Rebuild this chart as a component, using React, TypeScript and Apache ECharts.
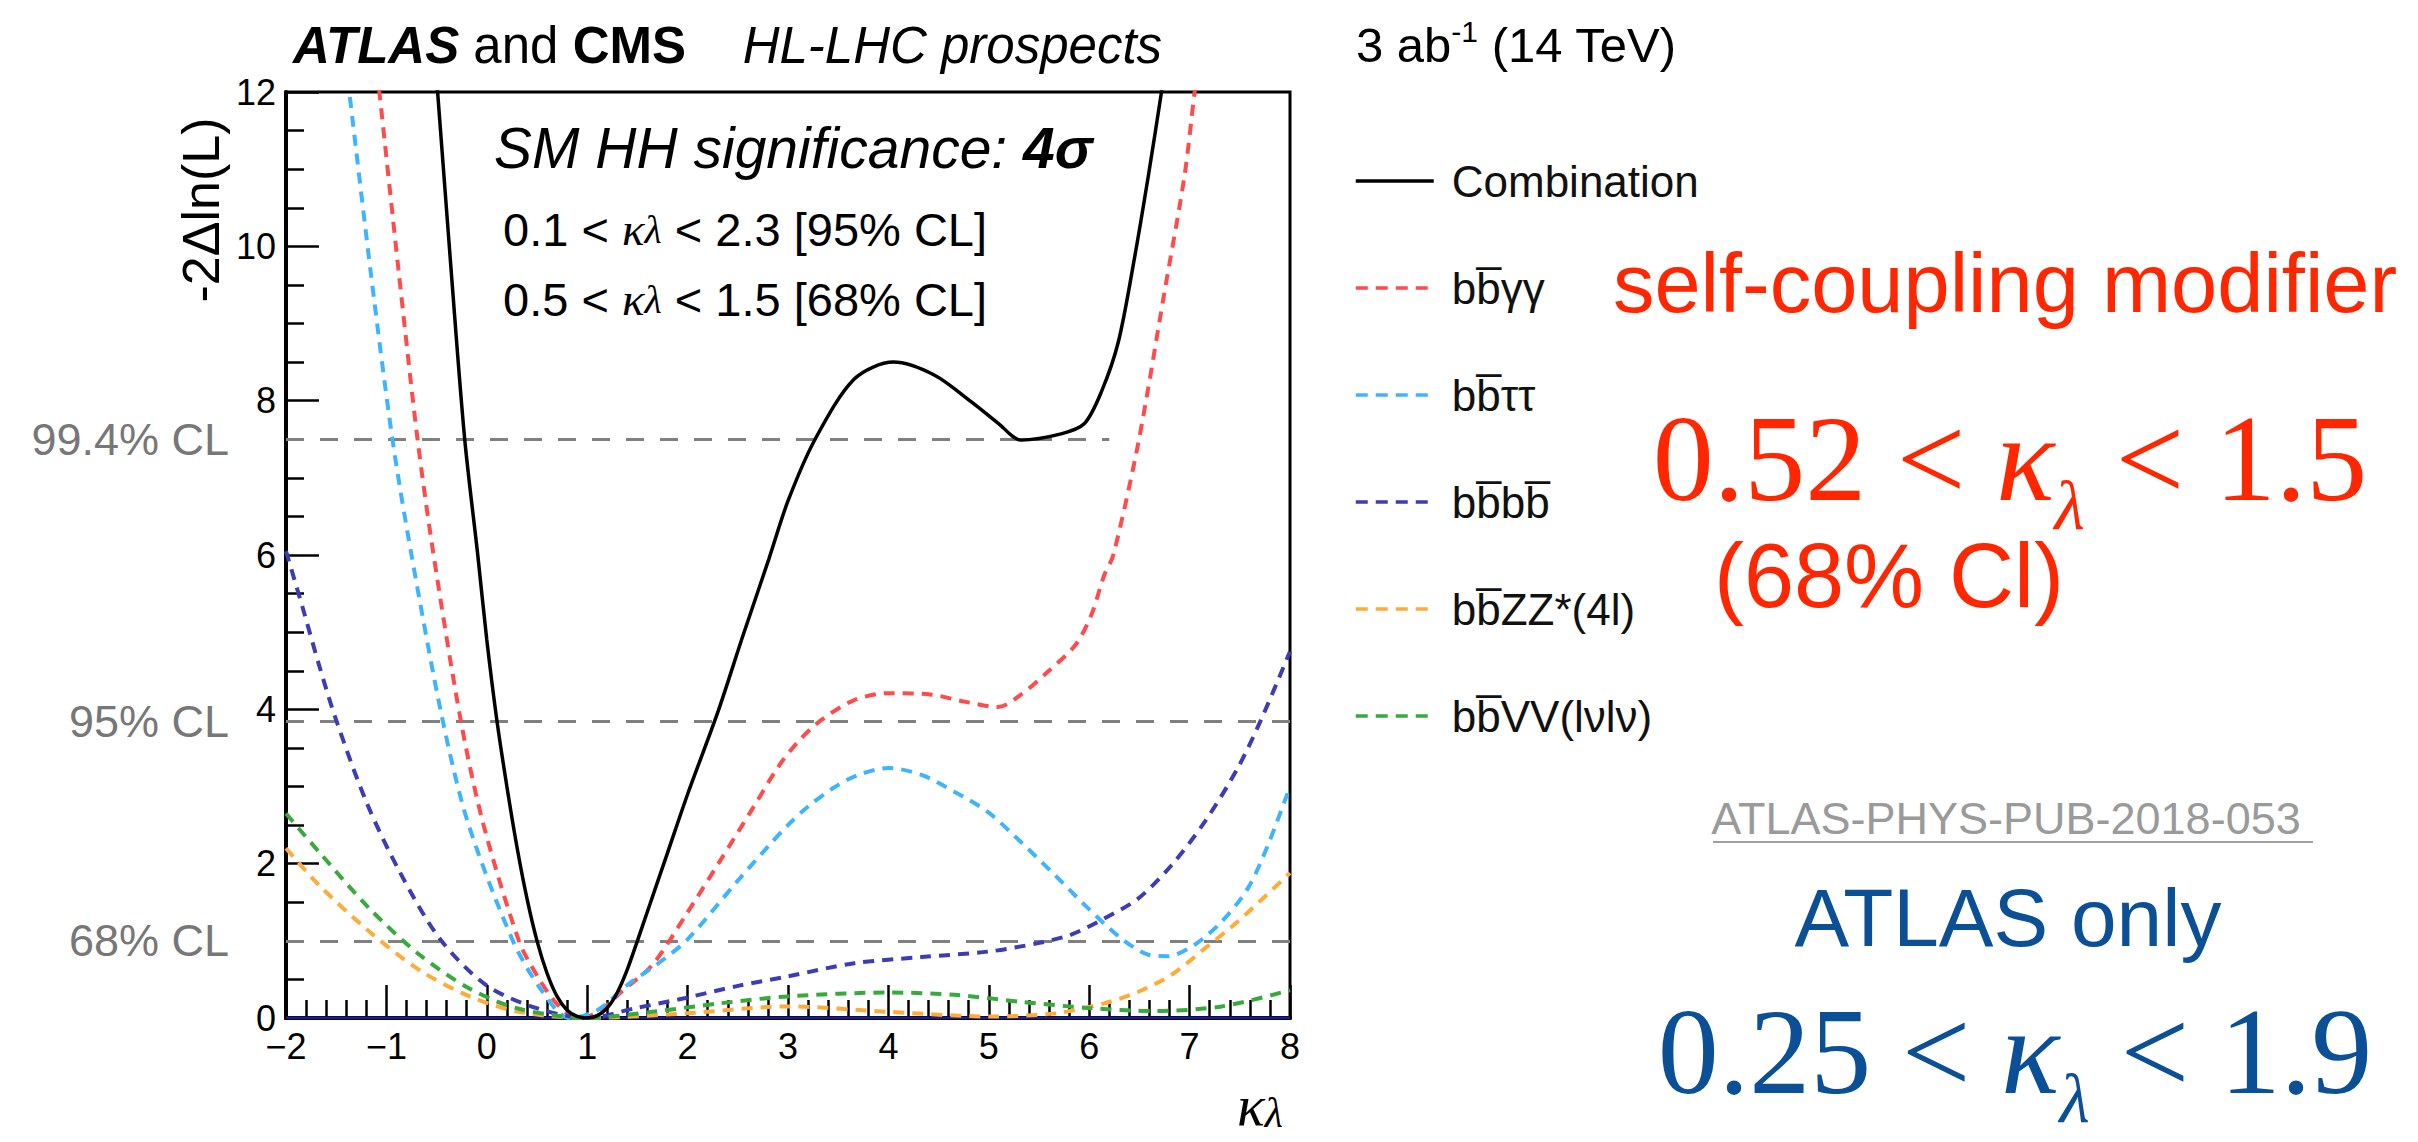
import React, { useEffect, useRef } from 'react';
import * as echarts from 'echarts';

const W = 2418;
const H = 1142;
const SANS = "'Liberation Sans', Arial, Helvetica, sans-serif";
const SERIF = "'Liberation Serif', 'Times New Roman', serif";

// axis ranges
const xMin = -2;
const xMax = 8;
const xInterval = 1;
const yMin = 0;
const yMax = 12;
const yInterval = 2;

// legend / series
const seriesNames = ['Combination', 'bb\u0305\u03b3\u03b3', 'bb\u0305\u03c4\u03c4', 'bb\u0305bb\u0305', 'bb\u0305ZZ*(4l)', 'bb\u0305VV(l\u03bdl\u03bd)'];
const seriesColors = ['#000000', '#ff4b4b', '#3eb4ff', '#3c3cb4', '#ffab38', '#36aa3c'];

// -2 Delta ln(L) curves: [kappa_lambda, value]
const combination: [number, number][] = [
  [-0.6, 13.8], [-0.49, 12], [-0.35, 9.6], [-0.22, 7.5], [-0.09, 6.0], [0.0, 4.9], [0.1, 3.86],
  [0.2, 3.0], [0.3, 2.22], [0.4, 1.55], [0.5, 1.0], [0.6, 0.58], [0.7, 0.28], [0.8, 0.1],
  [0.9, 0.02], [1.0, 0.0], [1.1, 0.03], [1.2, 0.13], [1.3, 0.33], [1.4, 0.63], [1.5, 1.0],
  [1.6, 1.38], [1.8, 2.14], [2.0, 2.9], [2.3, 3.96], [2.55, 4.95], [2.81, 5.95], [3.0, 6.7],
  [3.27, 7.5], [3.66, 8.28], [4.05, 8.5], [4.46, 8.33], [4.83, 7.98], [5.1, 7.7], [5.32, 7.49],
  [5.72, 7.57], [5.95, 7.7], [6.12, 8.11], [6.29, 8.76], [6.45, 9.84], [6.59, 10.92], [6.72, 12],
  [6.85, 13.1],
];
const bbgg: [number, number][] = [
  [-1.2, 13.5], [-1.07, 12], [-0.88, 9.7], [-0.69, 7.5], [-0.53, 6.0], [-0.26, 3.86], [-0.04, 2.54],
  [0.32, 1.0], [0.5, 0.55], [0.7, 0.18], [0.9, 0.0], [1.1, 0.07], [1.35, 0.35], [1.65, 0.69],
  [1.98, 1.33], [2.32, 2.03], [2.65, 2.72], [2.9, 3.25], [3.1, 3.58], [3.33, 3.86], [3.66, 4.12],
  [4.0, 4.21], [4.43, 4.19], [4.76, 4.1], [5.09, 4.03], [5.32, 4.19], [5.59, 4.49], [5.86, 4.83],
  [6.02, 5.22], [6.15, 5.74], [6.24, 6.0], [6.49, 7.46], [6.75, 9.41], [6.95, 10.92], [7.05, 12],
  [7.15, 13],
];
const bbtt: [number, number][] = [
  [-1.5, 13.4], [-1.37, 12], [-1.15, 9.6], [-0.94, 7.5], [-0.75, 6.0], [-0.44, 3.86], [-0.19, 2.54],
  [0.26, 1.0], [0.55, 0.35], [0.82, 0.0], [1.1, 0.1], [1.42, 0.45], [1.7, 0.7], [2.0, 1.02],
  [2.5, 1.78], [2.8, 2.22], [3.0, 2.5], [3.2, 2.74], [3.45, 2.98], [3.7, 3.15], [4.0, 3.24],
  [4.33, 3.15], [4.66, 2.93], [4.99, 2.67], [5.32, 2.28], [5.66, 1.85], [5.99, 1.42], [6.32, 1.03],
  [6.59, 0.82], [6.78, 0.8], [7.05, 0.95], [7.32, 1.25], [7.58, 1.68], [7.78, 2.24], [8.0, 3.0],
];
const bbbb: [number, number][] = [
  [-2, 6.05], [-1.83, 5.3], [-1.67, 4.57], [-1.5, 3.86], [-1.2, 2.8], [-0.87, 1.9], [-0.47, 1.03],
  [-0.01, 0.43], [0.49, 0.13], [1.0, 0.0], [1.49, 0.13], [1.98, 0.26], [2.48, 0.41], [3.0, 0.54],
  [3.66, 0.71], [4.33, 0.79], [4.99, 0.86], [5.49, 0.97], [5.82, 1.08], [6.15, 1.29], [6.49, 1.55],
  [6.82, 1.98], [7.15, 2.54], [7.48, 3.24], [7.71, 3.86], [8.0, 4.75],
];
const bbzz: [number, number][] = [
  [-2, 2.2], [-1.67, 1.72], [-1.17, 1.12], [-0.67, 0.62], [-0.17, 0.28], [0.32, 0.08], [1.0, 0.0],
  [1.98, 0.06], [3.0, 0.15], [4.0, 0.08], [5.0, 0.02], [5.66, 0.06], [6.15, 0.19], [6.49, 0.34],
  [6.82, 0.56], [7.15, 0.9], [7.48, 1.25], [8.0, 1.88],
];
const bbvv: [number, number][] = [
  [-2, 2.65], [-1.67, 2.15], [-1.17, 1.42], [-0.67, 0.82], [-0.17, 0.38], [0.32, 0.12], [1.0, 0.0],
  [1.65, 0.08], [2.32, 0.19], [3.0, 0.28], [4.0, 0.33], [4.66, 0.3], [5.32, 0.21], [5.99, 0.13],
  [6.65, 0.09], [7.32, 0.15], [8.0, 0.36],
];

// confidence level reference lines
const clValues = [1, 3.84, 7.5];
const clLabels = ['68% CL', '95% CL', '99.4% CL'];
const clEnds = [8, 8, 6.2];
const zeroLine: [number, number][] = [[-2, 0], [8, 0]];

const curves = [combination, bbgg, bbtt, bbbb, bbzz, bbvv];

function minus(v: number): string {
  return v < 0 ? '\u2212' + Math.abs(v) : String(v);
}

export default function App() {
  const ref = useRef<HTMLDivElement>(null);

  useEffect(() => {
    if (!ref.current) return;
    const chart = echarts.init(ref.current, null, { renderer: 'svg' });

    const dash = [11, 8];
    const lineSeries = curves.map((data, i) => ({
      name: seriesNames[i],
      type: 'line',
      data,
      symbol: 'none',
      smooth: 0.3,
      clip: true,
      silent: true,
      z: i === 0 ? 10 : 5,
      itemStyle: { color: seriesColors[i] },
      lineStyle:
        i === 0
          ? { color: seriesColors[i], width: 3.5, type: 'solid' }
          : { color: seriesColors[i], width: 4, type: dash },
    }));

    const kRich = (size: number, sub: number, color: string) => ({
      r: { fontFamily: SERIF, fontSize: size, fill: color, lineHeight: size + 3, verticalAlign: 'top' },
      k: { fontFamily: SERIF, fontSize: size, fontStyle: 'italic', fill: color, lineHeight: size + 3, verticalAlign: 'top' },
      l: { fontFamily: SERIF, fontSize: sub, fontStyle: 'italic', fill: color, lineHeight: sub, padding: [Math.round(size * 0.6), 0, 0, 0], verticalAlign: 'top' },
    });

    const option: any = {
      animation: false,
      backgroundColor: '#ffffff',
      grid: {
        left: 286,
        top: 92,
        width: 1004,
        height: 926,
        show: true,
        borderColor: '#000',
        borderWidth: 3,
        backgroundColor: 'transparent',
      },
      xAxis: [
        {
          type: 'value',
          min: xMin,
          max: xMax,
          interval: xInterval,
          axisLine: { show: true, onZero: false, lineStyle: { color: '#000', width: 4 } },
          axisTick: { show: true, inside: true, length: 33, lineStyle: { color: '#000', width: 2.5 } },
          minorTick: { show: true, splitNumber: 5, length: 18, lineStyle: { color: '#000', width: 2.5 } },
          axisLabel: { fontFamily: SANS, fontSize: 36, color: '#000', margin: 10, formatter: minus },
          splitLine: { show: false },
        },
        {
          type: 'value',
          position: 'top',
          min: xMin,
          max: xMax,
          axisLine: { show: true, lineStyle: { color: '#000', width: 4 } },
          axisTick: { show: false },
          axisLabel: { show: false },
          splitLine: { show: false },
        },
      ],
      yAxis: {
        type: 'value',
        min: yMin,
        max: yMax,
        interval: yInterval,
        axisLine: { show: true, onZero: false, lineStyle: { color: '#000', width: 4 } },
        axisTick: { show: true, inside: true, length: 33, lineStyle: { color: '#000', width: 2.5 } },
        minorTick: { show: true, splitNumber: 4, length: 18, lineStyle: { color: '#000', width: 2.5 } },
        axisLabel: { fontFamily: SANS, fontSize: 36, color: '#000', margin: 10 },
        splitLine: { show: false },
      },
      legend: {
        data: seriesNames.map((n, i) => ({
          name: n,
          itemStyle: { opacity: 0 },
          lineStyle:
            i === 0
              ? { color: seriesColors[i], width: 3.5, type: 'solid' }
              : { color: seriesColors[i], width: 3.5, type: [12, 8] },
        })),
        orient: 'vertical',
        left: 1349,
        top: 151,
        itemWidth: 78,
        itemHeight: 50,
        itemGap: 57,
        selectedMode: false,
        itemStyle: { opacity: 0 },
        textStyle: {
          fontFamily: SANS,
          fontSize: 44,
          color: '#111',
          lineHeight: 50,
          padding: [0, 0, 0, 13],
        },
      },
      series: [
        {
          name: 'zero',
          type: 'line',
          data: zeroLine,
          symbol: 'none',
          silent: true,
          z: 3,
          lineStyle: { color: '#1b1b8c', width: 3 },
          markLine: {
            silent: true,
            symbol: ['none', 'none'],
            lineStyle: { color: '#808080', width: 3, type: [18, 16] },
            label: {
              show: true,
              position: 'start',
              formatter: '{b}',
              distance: 57,
              color: '#777777',
              fontSize: 45,
              fontFamily: SANS,
              padding: [0, 0, 34, 0],
            },
            data: clValues.map((v, i) => [
              { coord: [xMin, v], name: clLabels[i] },
              { coord: [clEnds[i], v] },
            ]),
          },
        },
        ...lineSeries,
      ],
      graphic: [
        {
          type: 'text',
          x: 293,
          y: 45,
          silent: true,
          style: {
            text: '{bi|ATLAS}{r| and }{b|CMS}{r|    }{i|HL-LHC prospects}',
            align: 'left',
            verticalAlign: 'middle',
            rich: {
              bi: { fontFamily: SANS, fontSize: 51, fontWeight: 'bold', fontStyle: 'italic', fill: '#000' },
              b: { fontFamily: SANS, fontSize: 51, fontWeight: 'bold', fill: '#000' },
              r: { fontFamily: SANS, fontSize: 51, fill: '#000' },
              i: { fontFamily: SANS, fontSize: 51, fontStyle: 'italic', fill: '#000' },
            },
          },
        },
        {
          type: 'text',
          x: 1356,
          y: 45,
          silent: true,
          style: {
            text: '{r|3 ab}{s|-1}{r| (14 TeV)}',
            align: 'left',
            verticalAlign: 'middle',
            rich: {
              r: { fontFamily: SANS, fontSize: 49, fill: '#000', lineHeight: 58, verticalAlign: 'middle' },
              s: { fontFamily: SANS, fontSize: 30, fill: '#000', lineHeight: 42, verticalAlign: 'top' },
            },
          },
        },
        {
          type: 'text',
          x: 494,
          y: 148,
          silent: true,
          style: {
            text: '{i|SM HH significance: }{b|4\u03c3}',
            align: 'left',
            verticalAlign: 'middle',
            rich: {
              i: { fontFamily: SANS, fontSize: 57, fontStyle: 'italic', fill: '#000' },
              b: { fontFamily: SANS, fontSize: 57, fontStyle: 'italic', fontWeight: 'bold', fill: '#000' },
            },
          },
        },
        {
          type: 'text',
          x: 503,
          y: 229,
          silent: true,
          style: {
            text: '{r|0.1 < }{k|\u03ba}{l|\u03bb}{r| < 2.3 [95% CL]}',
            align: 'left',
            verticalAlign: 'middle',
            rich: {
              r: { fontFamily: SANS, fontSize: 47, fill: '#000' },
              k: { fontFamily: SERIF, fontSize: 47, fontStyle: 'italic', fill: '#000' },
              l: { fontFamily: SERIF, fontSize: 40, fontStyle: 'italic', fill: '#000' },
            },
          },
        },
        {
          type: 'text',
          x: 503,
          y: 299,
          silent: true,
          style: {
            text: '{r|0.5 < }{k|\u03ba}{l|\u03bb}{r| < 1.5 [68% CL]}',
            align: 'left',
            verticalAlign: 'middle',
            rich: {
              r: { fontFamily: SANS, fontSize: 47, fill: '#000' },
              k: { fontFamily: SERIF, fontSize: 47, fontStyle: 'italic', fill: '#000' },
              l: { fontFamily: SERIF, fontSize: 40, fontStyle: 'italic', fill: '#000' },
            },
          },
        },
        {
          type: 'text',
          x: 201,
          y: 210,
          rotation: Math.PI / 2,
          silent: true,
          style: {
            text: '-2\u0394ln(L)',
            fontFamily: SANS,
            fontSize: 52,
            fill: '#000',
            align: 'center',
            verticalAlign: 'middle',
          },
        },
        {
          type: 'text',
          x: 1283,
          y: 1105,
          silent: true,
          style: {
            text: '{k|\u03ba}{l|\u03bb}',
            align: 'right',
            verticalAlign: 'middle',
            rich: {
              k: { fontFamily: SERIF, fontSize: 58, fontStyle: 'italic', fill: '#000', lineHeight: 58, verticalAlign: 'bottom' },
              l: { fontFamily: SERIF, fontSize: 42, fontStyle: 'italic', fill: '#000', lineHeight: 42, verticalAlign: 'bottom' },
            },
          },
        },
        {
          type: 'text',
          x: 2005,
          y: 283,
          silent: true,
          style: {
            text: 'self-coupling modifier',
            fontFamily: SANS,
            fontSize: 83,
            fill: '#ff2600',
            align: 'center',
            verticalAlign: 'middle',
          },
        },
        {
          type: 'text',
          x: 2010,
          y: 460,
          silent: true,
          style: {
            text: '{r|0.52 < }{k|\u03ba}{l|\u03bb}{r| < 1.5}',
            align: 'center',
            verticalAlign: 'middle',
            rich: kRich(122, 70, '#ff2600'),
          },
        },
        {
          type: 'text',
          x: 1889,
          y: 576,
          silent: true,
          style: {
            text: '(68% Cl)',
            fontFamily: SANS,
            fontSize: 90,
            fill: '#ff2600',
            align: 'center',
            verticalAlign: 'middle',
          },
        },
        {
          type: 'text',
          x: 2006,
          y: 818,
          silent: true,
          style: {
            text: 'ATLAS-PHYS-PUB-2018-053',
            fontFamily: SANS,
            fontSize: 45,
            fill: '#9a9a9a',
            align: 'center',
            verticalAlign: 'middle',
          },
        },
        {
          type: 'line',
          silent: true,
          shape: { x1: 1713, y1: 842, x2: 2313, y2: 842 },
          style: { stroke: '#a0a0a0', lineWidth: 2 },
        },
        {
          type: 'text',
          x: 2008,
          y: 917,
          silent: true,
          style: {
            text: 'ATLAS only',
            fontFamily: SANS,
            fontSize: 82,
            fill: '#0b4f96',
            align: 'center',
            verticalAlign: 'middle',
          },
        },
        {
          type: 'text',
          x: 2015,
          y: 1053,
          silent: true,
          style: {
            text: '{r|0.25 < }{k|\u03ba}{l|\u03bb}{r| < 1.9}',
            align: 'center',
            verticalAlign: 'middle',
            rich: kRich(122, 70, '#0b4f96'),
          },
        },
      ],
    };

    chart.setOption(option);
    return () => {
      chart.dispose();
    };
  }, []);

  return (
    <div
      ref={ref}
      style={{ position: 'fixed', left: 0, top: 0, width: W, height: H, background: '#fff' }}
    />
  );
}
